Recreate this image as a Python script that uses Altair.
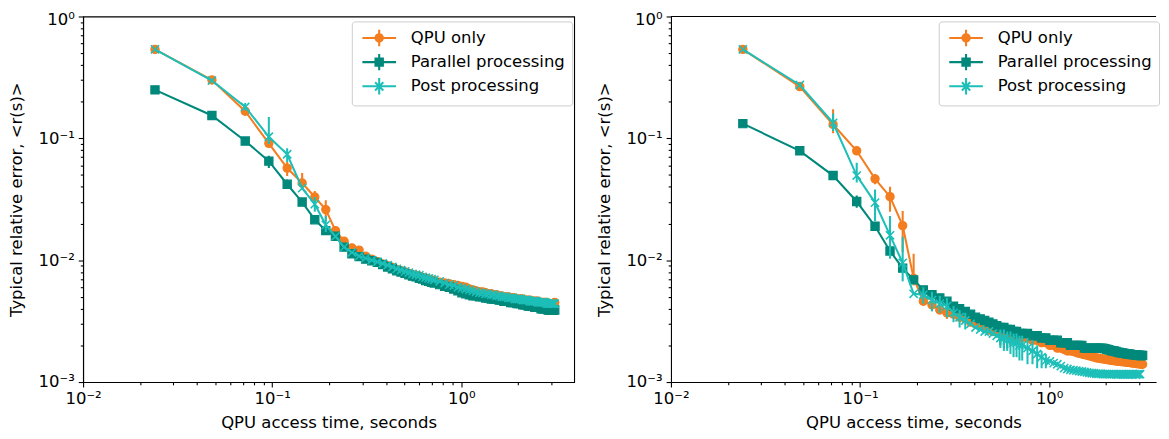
import altair as alt
import pandas as pd

SERIES = ["QPU only", "Parallel processing", "Post processing"]
COLORS = ["#f47d20", "#00897b", "#1dbfb8"]

# QPU access time (seconds) at which each curve is sampled
X = [0.024, 0.048, 0.072, 0.096, 0.12, 0.144, 0.168, 0.192, 0.216, 0.24,
     0.264, 0.288, 0.312, 0.336, 0.36, 0.384, 0.408, 0.432, 0.456, 0.48,
     0.504, 0.528, 0.552, 0.576, 0.6, 0.624, 0.648, 0.672, 0.696, 0.72,
     0.768, 0.816, 0.864, 0.912, 0.96, 1.008, 1.056, 1.104, 1.152, 1.2,
     1.248, 1.296, 1.344, 1.392, 1.44, 1.488, 1.536, 1.584, 1.632, 1.68,
     1.728, 1.776, 1.824, 1.872, 1.92, 1.968, 2.016, 2.064, 2.112, 2.16,
     2.208, 2.256, 2.304, 2.352, 2.4, 2.448, 2.496, 2.544, 2.592, 2.64,
     2.688, 2.736, 2.784, 2.832, 2.88, 2.928, 2.976, 3.024, 3.072, 3.12]

# ---- left panel: typical relative error ----
LEFT_QPU = [0.537, 0.301, 0.167, 0.091, 0.057, 0.043, 0.033, 0.026, 0.0175, 0.0143,
            0.0126, 0.0121, 0.0108, 0.0102, 0.0097, 0.0093, 0.0090, 0.0087, 0.0084, 0.0082,
            0.0080, 0.0078, 0.0076, 0.0075, 0.0074, 0.0072, 0.0071, 0.0070, 0.0069, 0.0068,
            0.0066, 0.0065, 0.0064, 0.0063, 0.0062, 0.0061, 0.0060, 0.0058, 0.0057, 0.0056,
            0.0055, 0.0055, 0.0054, 0.0053, 0.0053, 0.0052, 0.0052, 0.0051, 0.0051, 0.0050,
            0.0050, 0.0050, 0.0049, 0.0049, 0.0049, 0.0048, 0.0048, 0.0048, 0.0048, 0.0047,
            0.0047, 0.0047, 0.0047, 0.0046, 0.0046, 0.0046, 0.0046, 0.0046, 0.0045, 0.0045,
            0.0045, 0.0045, 0.0045, 0.0045, 0.0044, 0.0044, 0.0044, 0.0044, 0.0044, 0.0045]
LEFT_PAR = [0.250, 0.154, 0.095, 0.065, 0.042, 0.030, 0.0215, 0.0175, 0.0157, 0.0128,
            0.0113, 0.0107, 0.0102, 0.0099, 0.0096, 0.0092, 0.0088, 0.0085, 0.0082, 0.0080,
            0.0078, 0.0076, 0.0074, 0.0073, 0.0071, 0.0070, 0.0068, 0.0067, 0.0066, 0.0065,
            0.0063, 0.0061, 0.0060, 0.0058, 0.0056, 0.0054, 0.0053, 0.0052, 0.0051, 0.0051,
            0.0050, 0.0050, 0.0049, 0.0049, 0.0048, 0.0048, 0.0048, 0.0047, 0.0047, 0.0046,
            0.0046, 0.0046, 0.0045, 0.0045, 0.0045, 0.0044, 0.0044, 0.0044, 0.0043, 0.0043,
            0.0043, 0.0042, 0.0042, 0.0042, 0.0042, 0.0041, 0.0041, 0.0041, 0.0041, 0.0040,
            0.0040, 0.0040, 0.0040, 0.0040, 0.0039, 0.0039, 0.0039, 0.0039, 0.0039, 0.0039]
LEFT_POST = [0.537, 0.298, 0.181, 0.103, 0.074, 0.039, 0.0288, 0.0195, 0.0157, 0.0128,
             0.0116, 0.0108, 0.0104, 0.0100, 0.0097, 0.0094, 0.0091, 0.0088, 0.0085, 0.0083,
             0.0081, 0.0079, 0.0077, 0.0076, 0.0075, 0.0073, 0.0072, 0.0071, 0.0070, 0.0069,
             0.0067, 0.0065, 0.0063, 0.0062, 0.0060, 0.0059, 0.0058, 0.0057, 0.0056, 0.0055,
             0.0054, 0.0054, 0.0053, 0.0053, 0.0052, 0.0052, 0.0051, 0.0051, 0.0050, 0.0050,
             0.0050, 0.0049, 0.0049, 0.0049, 0.0048, 0.0048, 0.0048, 0.0048, 0.0047, 0.0047,
             0.0047, 0.0047, 0.0046, 0.0046, 0.0046, 0.0046, 0.0046, 0.0045, 0.0045, 0.0045,
             0.0045, 0.0045, 0.0045, 0.0044, 0.0044, 0.0044, 0.0044, 0.0044, 0.0044, 0.0044]

# ---- right panel ----
RIGHT_QPU = [0.537, 0.266, 0.130, 0.079, 0.0465, 0.0332, 0.0192, 0.0071, 0.0046, 0.0043,
             0.0039, 0.0037, 0.0036, 0.0034, 0.0033, 0.0031, 0.0030, 0.0029, 0.0028, 0.0027,
             0.0026, 0.0026, 0.0025, 0.0025, 0.0025, 0.0024, 0.0024, 0.0024, 0.0023, 0.0023,
             0.0023, 0.0022, 0.0022, 0.0021, 0.0021, 0.0020, 0.0020, 0.0019, 0.0019, 0.00185,
             0.0018, 0.0018, 0.00178, 0.00175, 0.00172, 0.0017, 0.00168, 0.00166, 0.00164, 0.00162,
             0.0016, 0.00158, 0.00157, 0.00156, 0.00155, 0.00154, 0.00153, 0.00152, 0.00151, 0.0015,
             0.0015, 0.00149, 0.00148, 0.00148, 0.00147, 0.00147, 0.00146, 0.00146, 0.00145, 0.00145,
             0.00144, 0.00144, 0.00143, 0.00143, 0.00142, 0.00142, 0.00141, 0.00141, 0.0014, 0.0014]
RIGHT_PAR = [0.132, 0.079, 0.0495, 0.0303, 0.019, 0.0119, 0.0086, 0.0069, 0.0057, 0.0052,
             0.0049, 0.0046, 0.0042, 0.0040, 0.0038, 0.0036, 0.0034, 0.0033, 0.0032, 0.0031,
             0.0030, 0.0029, 0.0028, 0.0028, 0.0027, 0.0027, 0.0026, 0.0026, 0.0025, 0.0025,
             0.0025, 0.0024, 0.0024, 0.0023, 0.0023, 0.0022, 0.0022, 0.0022, 0.0021, 0.0021,
             0.0021, 0.0020, 0.0020, 0.0020, 0.0020, 0.0020, 0.0019, 0.0019, 0.0019, 0.0019,
             0.0019, 0.0019, 0.0019, 0.0019, 0.0019, 0.00188, 0.00186, 0.00184, 0.00182, 0.0018,
             0.0018, 0.00178, 0.00176, 0.00175, 0.00174, 0.00173, 0.00172, 0.00171, 0.0017, 0.0017,
             0.00169, 0.00168, 0.00168, 0.00167, 0.00167, 0.00166, 0.00166, 0.00165, 0.00165, 0.00165]
RIGHT_POST = [0.537, 0.274, 0.134, 0.0495, 0.0297, 0.0160, 0.0095, 0.0053, 0.0052, 0.0047,
              0.0044, 0.0042, 0.0037, 0.0034, 0.0032, 0.0030, 0.0028, 0.0027, 0.0026, 0.0026,
              0.0025, 0.0024, 0.0023, 0.0023, 0.0022, 0.0022, 0.0021, 0.0021, 0.0020, 0.0020,
              0.0019, 0.0018, 0.0017, 0.0016, 0.0015, 0.00148, 0.00143, 0.0014, 0.00135, 0.0013,
              0.00128, 0.00126, 0.00125, 0.00124, 0.00123, 0.00122, 0.00121, 0.0012, 0.00119, 0.00118,
              0.00118, 0.00117, 0.00117, 0.00117, 0.00116, 0.00116, 0.00116, 0.00116, 0.00116, 0.00116,
              0.00116, 0.00116, 0.00115, 0.00116, 0.00116, 0.00115, 0.00116, 0.00116, 0.00115, 0.00116,
              0.00116, 0.00115, 0.00116, 0.00116, 0.00115, 0.00116, 0.00116, 0.00116]

# ---- error bars: (x, lower, upper) ----
LEFT_QPU_ERR = [(0.12, 0.049, 0.064), (0.144, 0.038, 0.052), (0.168, 0.030, 0.037),
                (0.192, 0.021, 0.031), (0.264, 0.0115, 0.0135), (0.288, 0.0113, 0.0128)]
LEFT_PAR_ERR = [(0.096, 0.057, 0.072), (0.12, 0.039, 0.046)]
LEFT_POST_ERR = [(0.072, 0.170, 0.195), (0.096, 0.090, 0.150), (0.12, 0.064, 0.083),
                 (0.168, 0.025, 0.033), (0.192, 0.017, 0.023)]
RIGHT_QPU_ERR = [(0.072, 0.110, 0.173), (0.12, 0.042, 0.051), (0.144, 0.025, 0.040),
                 (0.168, 0.0117, 0.0253), (0.192, 0.0062, 0.0113), (0.24, 0.0039, 0.0047),
                 (0.288, 0.0033, 0.0041)]
RIGHT_PAR_ERR = [(0.096, 0.027, 0.034), (0.144, 0.0105, 0.0135), (0.552, 0.0020, 0.0031),
                 (0.576, 0.0019, 0.0030), (0.6, 0.0019, 0.0029), (0.624, 0.0020, 0.0029),
                 (0.648, 0.0020, 0.0028), (0.672, 0.0021, 0.0027)]
RIGHT_POST_ERR = [(0.072, 0.115, 0.160), (0.096, 0.0434, 0.063), (0.12, 0.021, 0.038),
                  (0.144, 0.0103, 0.0231), (0.168, 0.0067, 0.0156), (0.216, 0.0044, 0.0060),
                  (0.24, 0.0038, 0.0055), (0.264, 0.0037, 0.0051), (0.288, 0.0034, 0.0049),
                  (0.312, 0.0031, 0.0042), (0.336, 0.0028, 0.0039), (0.36, 0.0027, 0.0037),
                  (0.552, 0.0019, 0.0027), (0.576, 0.0018, 0.0027), (0.6, 0.0018, 0.0026),
                  (0.624, 0.0017, 0.0026), (0.648, 0.0016, 0.0025), (0.672, 0.0016, 0.0025),
                  (0.696, 0.0015, 0.0024), (0.72, 0.0015, 0.0024), (0.768, 0.0014, 0.0023),
                  (0.816, 0.0014, 0.0022), (0.864, 0.0013, 0.0020), (0.912, 0.0013, 0.0018),
                  (0.96, 0.0013, 0.0017)]

X_TICKS = [0.01, 0.02, 0.03, 0.04, 0.05, 0.06, 0.07, 0.08, 0.09,
           0.1, 0.2, 0.3, 0.4, 0.5, 0.6, 0.7, 0.8, 0.9, 1, 2, 3]
Y_TICKS = [0.001, 0.002, 0.003, 0.004, 0.005, 0.006, 0.007, 0.008, 0.009,
           0.01, 0.02, 0.03, 0.04, 0.05, 0.06, 0.07, 0.08, 0.09,
           0.1, 0.2, 0.3, 0.4, 0.5, 0.6, 0.7, 0.8, 0.9, 1]

FONT = "DejaVu Sans"
FS = 16.67
LW = 2.08

LABEL_EXPR = ("datum.value == 1 ? '10\u2070' : datum.value == 0.1 ? '10\u207b\u00b9' : "
              "datum.value == 0.01 ? '10\u207b\u00b2' : datum.value == 0.001 ? '10\u207b\u00b3' : ''")
TICK_SIZE = {"condition": {"test": "indexof([0.001, 0.01, 0.1, 1], datum.value) >= 0", "value": 4.9},
             "value": 2.8}
# keep the topmost y label inside the page
Y_LABEL_OFFSET = {"condition": {"test": "datum.value == 1", "value": 3}, "value": 0}

MARK_SHAPES = ["circle", "square", "M-1,-1L1,1M-1,1L1,-1"]
MARK_FILLED = [True, True, False]
LEG_PATHS = [
    "M-2,0H2M0,-0.98V0.98M0.44,0A0.44,0.44,0,1,1,-0.44,0A0.44,0.44,0,1,1,0.44,0Z",
    "M-2,0H2M0,-0.98V0.98M-0.44,-0.44H0.44V0.44H-0.44Z",
    "M-2,0H2M0,-0.98V0.98M-0.49,-0.49L0.49,0.49M-0.49,0.49L0.49,-0.49",
]


def axis_common(title, values, **kw):
    return alt.Axis(title=title, values=values, labelExpr=LABEL_EXPR, tickSize=TICK_SIZE,
                    grid=False, labelFlush=False, labelOverlap=False,
                    labelFont=FONT, labelFontSize=FS, labelColor="black",
                    titleFont=FONT, titleFontSize=FS, titleFontWeight="normal", titleColor="black",
                    tickColor="black", tickWidth=1.1, domainColor="black", domainWidth=1.1, **kw)


def panel(xmax, width, series_vals, series_errs, legend_x, top_border):
    xs = alt.Scale(type="log", domain=[0.01, xmax], nice=False)
    ysc = alt.Scale(type="log", domain=[0.001, 1], nice=False)
    xaxis = axis_common("QPU access time, seconds", X_TICKS, labelPadding=4, titlePadding=7)
    yaxis = axis_common("Typical relative error, <r(s)>", Y_TICKS, labelPadding=4, titlePadding=12.5,
                        labelOffset=Y_LABEL_OFFSET)
    layers = []
    for name, color, shape, filled, vals, errs in zip(SERIES, COLORS, MARK_SHAPES, MARK_FILLED,
                                                       series_vals, series_errs):
        df = pd.DataFrame({"x": X[:len(vals)], "y": vals})
        edf = pd.DataFrame(errs, columns=["x", "lo", "hi"])
        rule = alt.Chart(edf).mark_rule(color=color, strokeWidth=LW, clip=True).encode(
            x=alt.X("x:Q", scale=xs, axis=xaxis),
            y=alt.Y("lo:Q", scale=ysc, axis=yaxis),
            y2="hi:Q",
        )
        line = alt.Chart(df).mark_line(color=color, strokeWidth=LW, clip=True).encode(
            x=alt.X("x:Q", scale=xs, axis=xaxis),
            y=alt.Y("y:Q", scale=ysc, axis=yaxis),
        )
        if filled:
            pm = alt.Chart(df).mark_point(shape=shape, filled=True, fill=color, stroke=color,
                                          strokeWidth=1.2, size=69, opacity=1, clip=True)
        else:
            pm = alt.Chart(df).mark_point(shape=shape, filled=False, stroke=color,
                                          strokeWidth=1.6, size=69, opacity=1, clip=True)
        pts = pm.encode(
            x=alt.X("x:Q", scale=xs, axis=xaxis),
            y=alt.Y("y:Q", scale=ysc, axis=yaxis),
        )
        layers += [rule, line, pts]

    legend = alt.Legend(title=None, orient="none", legendX=legend_x, legendY=5,
                        direction="vertical", padding=6.7, rowPadding=-1.5,
                        symbolSize=289, symbolStrokeWidth=LW, symbolOffset=11, labelOffset=22,
                        labelFont=FONT, labelFontSize=FS, labelColor="black", labelLimit=400,
                        cornerRadius=3, strokeColor="#cccccc", fillColor="rgba(255,255,255,0.8)")
    leg_df = pd.DataFrame({"series": SERIES})
    leg_layer = alt.Chart(leg_df).transform_filter("false").mark_point(
        filled=True, opacity=1).encode(
        fill=alt.Fill("series:N", scale=alt.Scale(domain=SERIES, range=COLORS), legend=legend),
        stroke=alt.Stroke("series:N", scale=alt.Scale(domain=SERIES, range=COLORS), legend=legend),
        shape=alt.Shape("series:N", scale=alt.Scale(domain=SERIES, range=LEG_PATHS), legend=legend),
    )
    layers.append(leg_layer)
    if top_border:
        border = alt.Chart(alt.Data(values=[{"k": 0}])).mark_rule(
            color="black", strokeWidth=1.1).encode(
            x=alt.value(0), x2=alt.value(width), y=alt.value(0))
        layers.append(border)
    ch = alt.layer(*layers).properties(width=width, height=370)
    if top_border:
        ch = ch.properties(view=alt.ViewBackground(stroke="transparent"))
    return ch


left = panel(3.95, 497, [LEFT_QPU, LEFT_PAR, LEFT_POST],
             [LEFT_QPU_ERR, LEFT_PAR_ERR, LEFT_POST_ERR], 272, False)
right = panel(3.674, 491, [RIGHT_QPU, RIGHT_PAR, RIGHT_POST],
              [RIGHT_QPU_ERR, RIGHT_PAR_ERR, RIGHT_POST_ERR], 271, True)

chart = alt.hconcat(left, right, spacing=98, bounds="flush").resolve_scale(
    x="independent", y="independent", fill="independent", stroke="independent", shape="independent"
).resolve_legend(
    fill="independent", stroke="independent", shape="independent"
).properties(
    padding={"left": 0, "top": 0, "right": 0, "bottom": 0}
).configure(font=FONT).configure_view(stroke="black", strokeWidth=1.1)

chart.save("out.html", embed_options={"renderer": "svg", "actions": False})
